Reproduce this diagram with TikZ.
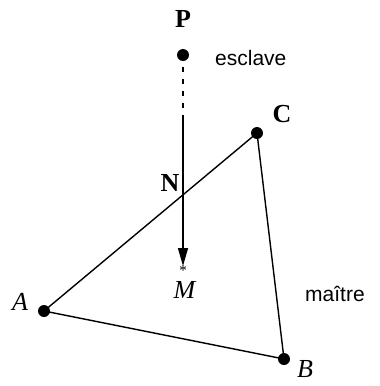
\documentclass[tikz,border=0pt]{standalone}
\usepackage{fontspec}
\setmainfont{Liberation Serif}
\setsansfont{Liberation Sans}
\usetikzlibrary{arrows.meta}
\begin{document}
\begin{tikzpicture}[x=1pt,y=-1pt,
  dot/.style={circle,fill=black,inner sep=0pt,minimum size=12pt},
  lbl/.style={inner sep=0pt,font=\fontsize{26}{28}\selectfont},
  sans/.style={inner sep=0pt,font=\sffamily\fontsize{21}{24}\selectfont},
  edge/.style={line width=1.4pt}]
\useasboundingbox (0,0) rectangle (380,386);
\node[dot] (P) at (183,55) {};
\node[dot] (C) at (257,133) {};
\node[dot] (A) at (44,311) {};
\node[dot] (B) at (284,359) {};
\coordinate (D) at (183,118);
\coordinate (M) at (183,266);
\node[lbl] (Pl) at (183,19) {\textbf{P}};
\node[lbl] (Cl) at (282,114) {\textbf{C}};
\node[lbl] (Nl) at (170,183) {\textbf{N}};
\node[lbl] (Al) at (20,302) {\textit{A}};
\node[lbl] (Bl) at (305,369) {\textit{B}};
\node[lbl] (Ml) at (185,290) {\textit{M}};
\node[inner sep=0pt,font=\fontsize{15}{15}\selectfont] (star) at (183,271) {*};
\node[sans,anchor=west] (esc) at (215,58) {esclave};
\node[sans,anchor=west] (mai) at (305,294) {maître};
\draw[edge] (A.center) -- (C.center) -- (B.center) -- (A.center);
\draw[edge,line width=1.2pt,dash pattern=on 5pt off 7pt] (P.center) -- (D);
\draw[edge,-{Triangle[length=18pt,width=10pt]}] (D) -- (M);
\end{tikzpicture}
\end{document}
